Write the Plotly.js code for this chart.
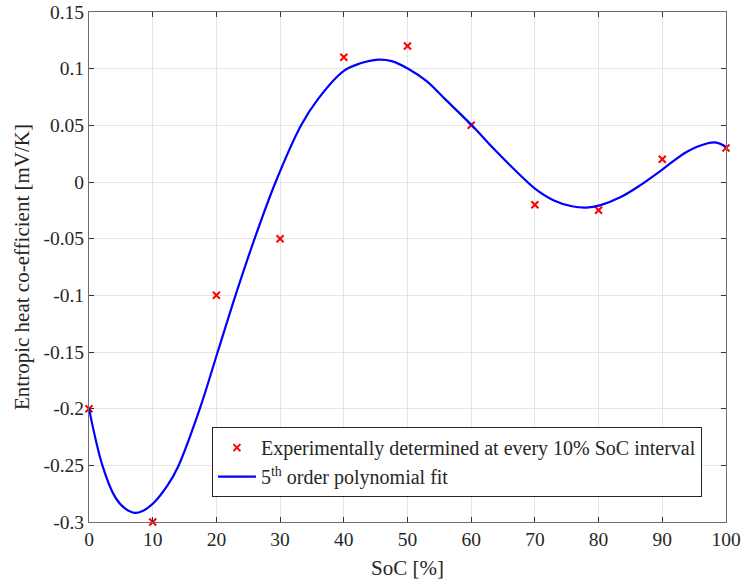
<!DOCTYPE html>
<html>
<head>
<meta charset="utf-8">
<script src="https://cdn.plot.ly/plotly-3.0.1.min.js"></script>
<style>html,body{margin:0;padding:0;background:#fff;}#chart{width:744px;height:585px;}</style>
</head>
<body>
<div id="chart"></div>
<script>
// Experimental points
const socPoints = [0, 10, 20, 30, 40, 50, 60, 70, 80, 90, 100];
const entropicPoints = [-0.2, -0.3, -0.1, -0.05, 0.11, 0.12, 0.05, -0.02, -0.025, 0.02, 0.03];

// 5th order polynomial fit curve
const fitSoc = [0, 2.1, 4.1, 5.65, 7.2, 8.5, 10.1, 12.3, 14.0, 17.4, 20.2, 23.0, 26.0, 29.3, 33.3, 36.0, 40.0, 42.5, 45.4, 47.5, 50.1, 53.0, 56.1, 60.1, 63.5, 67.7, 70.0, 72.9, 75.8, 78.1, 80.2, 83.4, 86.5, 90.0, 93.8, 97.0, 98.5, 100];
const fitValues = [-0.2, -0.25, -0.278, -0.288, -0.292, -0.29, -0.2835, -0.268, -0.251, -0.2, -0.15, -0.1, -0.05, 0.0, 0.05, 0.0735, 0.098, 0.1045, 0.108, 0.1067, 0.1, 0.089, 0.072, 0.05, 0.0295, 0.006, -0.0058, -0.016, -0.0214, -0.0226, -0.0206, -0.0135, -0.003, 0.011, 0.0265, 0.034, 0.0348, 0.031];

const xTicks = [0, 10, 20, 30, 40, 50, 60, 70, 80, 90, 100];
const xTickText = ['0', '10', '20', '30', '40', '50', '60', '70', '80', '90', '100'];
const yTicks = [-0.3, -0.25, -0.2, -0.15, -0.1, -0.05, 0, 0.05, 0.1, 0.15];
const yTickText = ['-0.3', '-0.25', '-0.2', '-0.15', '-0.1', '-0.05', '0', '0.05', '0.1', '0.15'];

const seriesNames = ['Experimentally determined at every 10% SoC interval', '5<sup>th</sup> order polynomial fit'];

const font = '"Liberation Serif", "DejaVu Serif", serif';

const traces = [
  {
    x: socPoints, y: entropicPoints, type: 'scatter', mode: 'markers',
    name: seriesNames[0],
    marker: {symbol: 'x-thin', size: 7, color: '#ff0000', line: {color: '#ff0000', width: 2}},
    cliponaxis: false
  },
  {
    x: fitSoc, y: fitValues, type: 'scatter', mode: 'lines',
    name: seriesNames[1],
    line: {color: '#0000ff', width: 2.2, shape: 'spline', smoothing: 1}
  }
];

const axisCommon = {
  showline: true, mirror: 'ticks', linecolor: '#6e6e6e', linewidth: 1,
  ticks: 'inside', ticklen: 5, tickcolor: '#333', tickwidth: 1,
  showgrid: true, gridcolor: '#e5e5e5', gridwidth: 1,
  zeroline: false, automargin: false,
  tickfont: {family: font, size: 19.5, color: '#262626'}
};

const layout = {
  width: 744, height: 585,
  margin: {l: 89, r: 18, t: 12, b: 63},
  paper_bgcolor: '#fff', plot_bgcolor: '#fff',
  showlegend: true,
  font: {family: font, color: '#262626'},
  xaxis: Object.assign({}, axisCommon, {
    range: [0, 100], tickvals: xTicks, ticktext: xTickText,
    title: {text: 'SoC [%]', font: {family: font, size: 21, color: '#262626'}, standoff: 10}
  }),
  yaxis: Object.assign({}, axisCommon, {
    range: [-0.3, 0.15], tickvals: yTicks, ticktext: yTickText,
    title: {text: 'Entropic heat co-efficient [mV/K]', font: {family: font, size: 21, color: '#262626'}, standoff: 8}
  }),
  legend: {
    x: 0.193, y: 0.186, xanchor: 'left', yanchor: 'top',
    bgcolor: '#fff', bordercolor: '#262626', borderwidth: 1,
    font: {family: font, size: 20, color: '#262626'},
    itemwidth: 38,
    tracegroupgap: 0
  }
};

Plotly.newPlot('chart', traces, layout, {displayModeBar: false, staticPlot: true});
</script>
</body>
</html>
